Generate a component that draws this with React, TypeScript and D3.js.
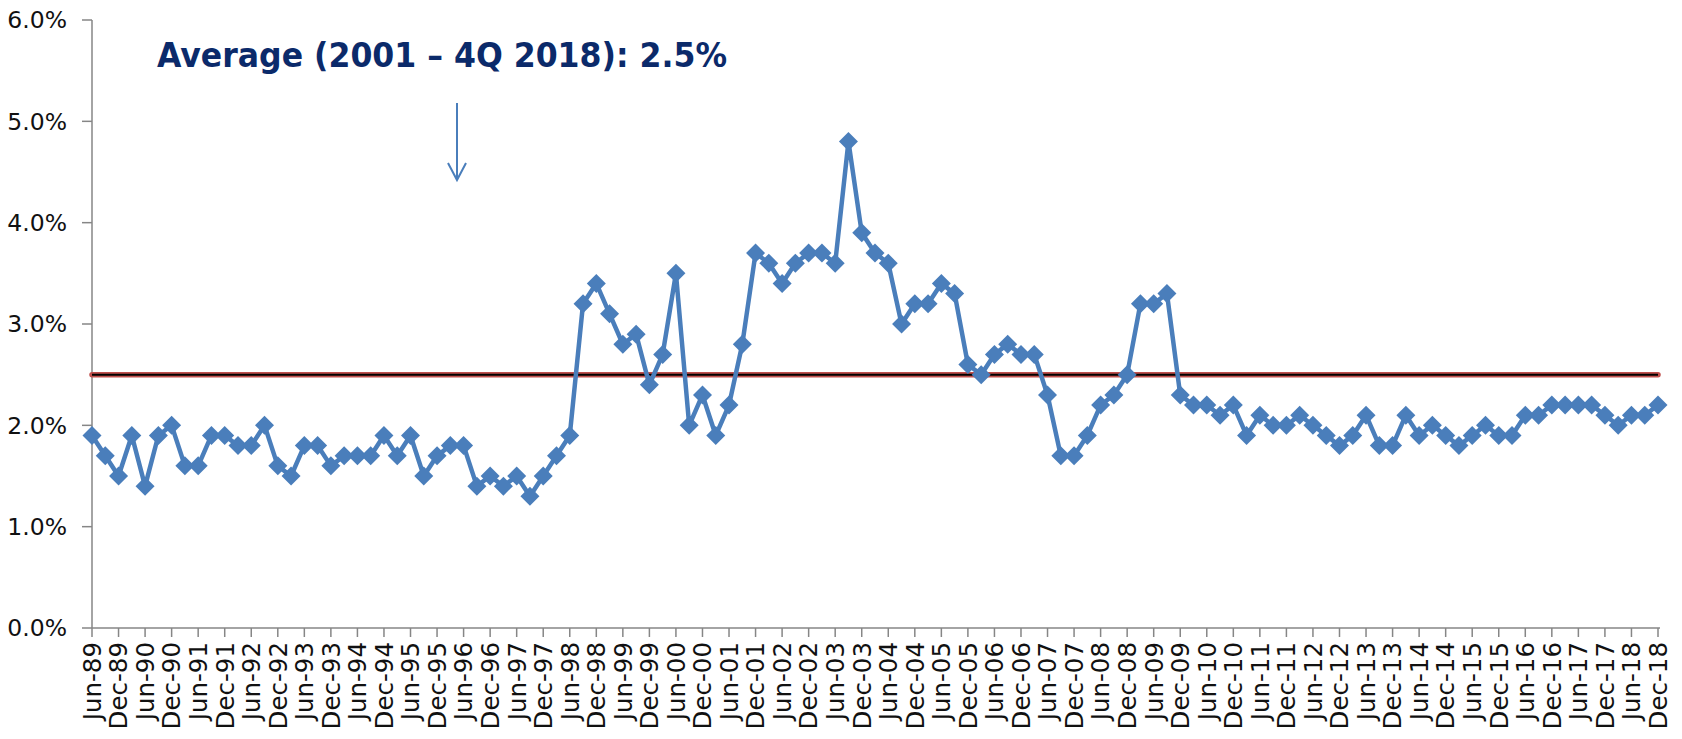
import React from "react";
import * as d3 from "d3";

// Quarterly values, Jun-89 (Q2 1989) through Dec-18 (Q4 2018), in percent
const values: number[] = [
  1.9, 1.7, 1.5, 1.9, 1.4, 1.9, 2.0, 1.6, 1.6, 1.9, 1.9, 1.8, 1.8, 2.0, 1.6, 1.5,
  1.8, 1.8, 1.6, 1.7, 1.7, 1.7, 1.9, 1.7, 1.9, 1.5, 1.7, 1.8, 1.8, 1.4, 1.5, 1.4, 1.5, 1.3, 1.5, 1.7, 1.9,
  3.2, 3.4, 3.1, 2.8, 2.9, 2.4, 2.7, 3.5, 2.0, 2.3, 1.9, 2.2, 2.8, 3.7, 3.6, 3.4, 3.6, 3.7, 3.7, 3.6,
  4.8, 3.9, 3.7, 3.6, 3.0, 3.2, 3.2, 3.4, 3.3, 2.6, 2.5, 2.7, 2.8, 2.7, 2.7, 2.3, 1.7, 1.7, 1.9, 2.2, 2.3, 2.5,
  3.2, 3.2, 3.3, 2.3, 2.2, 2.2, 2.1, 2.2, 1.9, 2.1, 2.0, 2.0, 2.1, 2.0, 1.9, 1.8,
  1.9, 2.1, 1.8, 1.8, 2.1, 1.9, 2.0, 1.9, 1.8, 1.9, 2.0, 1.9, 1.9, 2.1, 2.1, 2.2, 2.2, 2.2, 2.2, 2.1, 2.0, 2.1, 2.1, 2.2,
];

// Labels shown every second quarter (Jun / Dec)
const tickLabels: string[] = [
  "Jun-89", "Dec-89", "Jun-90", "Dec-90", "Jun-91", "Dec-91", "Jun-92", "Dec-92",
  "Jun-93", "Dec-93", "Jun-94", "Dec-94", "Jun-95", "Dec-95", "Jun-96", "Dec-96",
  "Jun-97", "Dec-97", "Jun-98", "Dec-98", "Jun-99", "Dec-99", "Jun-00", "Dec-00",
  "Jun-01", "Dec-01", "Jun-02", "Dec-02", "Jun-03", "Dec-03", "Jun-04", "Dec-04",
  "Jun-05", "Dec-05", "Jun-06", "Dec-06", "Jun-07", "Dec-07", "Jun-08", "Dec-08",
  "Jun-09", "Dec-09", "Jun-10", "Dec-10", "Jun-11", "Dec-11", "Jun-12", "Dec-12",
  "Jun-13", "Dec-13", "Jun-14", "Dec-14", "Jun-15", "Dec-15", "Jun-16", "Dec-16",
  "Jun-17", "Dec-17", "Jun-18", "Dec-18",
];

const yTicks: number[] = [0, 1, 2, 3, 4, 5, 6];
const averageValue = 2.5;
const titleText = "Average (2001 \u2013 4Q 2018): 2.5%";

const W = 1682;
const H = 739;
const left = 92;
const right = 1658;
const top = 20;
const bottom = 628;

const LINE = "#4a7ebb";
const AXIS = "#868686";
const FONT = "'DejaVu Sans', sans-serif";

export default function App() {
  const x = d3.scaleLinear().domain([0, values.length - 1]).range([left, right]);
  const y = d3.scaleLinear().domain([0, 6]).range([bottom, top]);

  const line = d3
    .line<number>()
    .x((_, i) => x(i))
    .y((d) => y(d));

  const m = 9.5; // diamond half-diagonal
  const diamond = `M0,${-m}L${m},0L0,${m}L${-m},0Z`;

  const arrowX = 457;

  return (
    <svg
      width={W}
      height={H}
      style={{ position: "absolute", left: 0, top: 0, background: "#fff" }}
    >
      {/* Y axis */}
      <line x1={left} x2={left} y1={y(6)} y2={bottom} stroke={AXIS} strokeWidth={1.5} />
      {yTicks.map((t) => (
        <g key={t}>
          <line x1={left - 10} x2={left} y1={y(t)} y2={y(t)} stroke={AXIS} strokeWidth={1.5} />
          <text
            x={67}
            y={y(t)}
            dy="0.36em"
            textAnchor="end"
            fontFamily={FONT}
            fontSize={23.5}
            fill="#111"
          >
            {t.toFixed(1)}%
          </text>
        </g>
      ))}

      {/* X axis */}
      <line x1={left} x2={right + 2} y1={bottom} y2={bottom} stroke={AXIS} strokeWidth={1.5} />
      {tickLabels.map((lab, k) => {
        const xi = x(k * 2);
        return (
          <g key={lab}>
            <line x1={xi} x2={xi} y1={bottom} y2={bottom + 9} stroke={AXIS} strokeWidth={1.5} />
            <text
              transform={`translate(${xi},${bottom + 14}) rotate(-90)`}
              dy="0.36em"
              textAnchor="end"
              fontFamily={FONT}
              fontSize={24.5}
              fill="#111"
            >
              {lab}
            </text>
          </g>
        );
      })}

      {/* Average line */}
      <line
        x1={left}
        x2={right}
        y1={y(averageValue)}
        y2={y(averageValue)}
        stroke="#c0504d"
        strokeWidth={5.5}
        strokeLinecap="round"
      />
      <line
        x1={left}
        x2={right}
        y1={y(averageValue)}
        y2={y(averageValue)}
        stroke="#000"
        strokeWidth={2}
      />

      {/* Series */}
      <path d={line(values) || ""} fill="none" stroke={LINE} strokeWidth={4.5} strokeLinejoin="round" />
      {values.map((v, i) => (
        <path key={i} d={diamond} transform={`translate(${x(i)},${y(v)})`} fill={LINE} />
      ))}

      {/* Title annotation */}
      <text
        x={157}
        y={67}
        fontFamily={FONT}
        fontWeight="bold"
        fontSize={33}
        fill="#0b2a6a"
        textLength={570}
        lengthAdjust="spacingAndGlyphs"
      >
        {titleText}
      </text>

      {/* Arrow */}
      <line x1={arrowX} x2={arrowX} y1={103} y2={180} stroke={LINE} strokeWidth={2} />
      <polyline
        points={`${arrowX - 9},163 ${arrowX},180 ${arrowX + 9},163`}
        fill="none"
        stroke={LINE}
        strokeWidth={2}
      />
    </svg>
  );
}
